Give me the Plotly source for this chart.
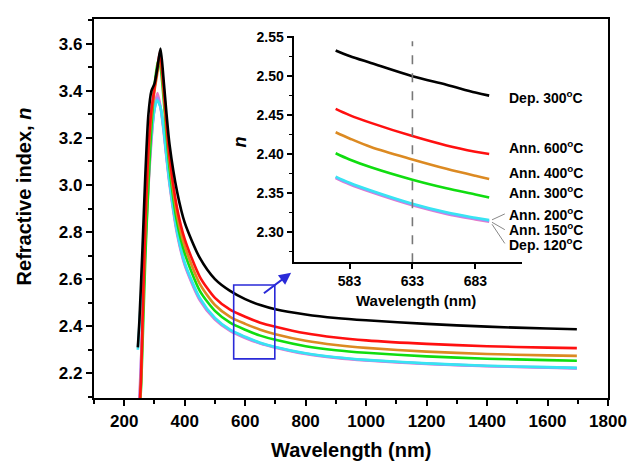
import plotly.graph_objects as go

# ---------------- data ----------------
names = ["Dep. 120", "Ann. 150", "Ann. 200", "Ann. 300", "Ann. 400", "Ann. 600", "Dep. 300"]
colors = ["#e77bc6", "#9f8fff", "#38e4f2", "#10dd10", "#dc8a22", "#ff1010", "#000000"]

wl_dep120 = [248, 252, 260, 270, 280, 290, 300, 310, 320, 330, 340, 350, 375, 400, 450, 500, 550, 600, 650, 700, 800, 900, 1000, 1200, 1400, 1600, 1697]
n_dep120 = [2.05, 2.15, 2.40, 2.74, 2.99, 3.19, 3.33, 3.39, 3.33, 3.23, 3.11, 3.00, 2.79, 2.66, 2.51, 2.428, 2.38, 2.35, 2.326, 2.309, 2.282, 2.265, 2.254, 2.240, 2.230, 2.224, 2.221]

wl_ann150 = [250, 254, 260, 270, 280, 290, 300, 310, 320, 330, 340, 350, 375, 400, 450, 500, 550, 600, 650, 700, 800, 900, 1000, 1200, 1400, 1600, 1697]
n_ann150 = [2.05, 2.18, 2.42, 2.76, 3.01, 3.20, 3.32, 3.37, 3.33, 3.24, 3.12, 3.01, 2.80, 2.665, 2.515, 2.432, 2.383, 2.353, 2.328, 2.311, 2.284, 2.267, 2.256, 2.241, 2.231, 2.225, 2.222]

wl_ann200 = [245, 250, 260, 270, 280, 290, 300, 308, 320, 330, 340, 350, 375, 400, 450, 500, 550, 600, 650, 700, 800, 900, 1000, 1200, 1400, 1600, 1697]
n_ann200 = [2.30, 2.40, 2.62, 2.87, 3.07, 3.22, 3.32, 3.36, 3.33, 3.24, 3.12, 3.01, 2.80, 2.67, 2.52, 2.435, 2.385, 2.355, 2.33, 2.312, 2.285, 2.268, 2.257, 2.242, 2.232, 2.226, 2.223]

wl_ann300 = [252, 256, 260, 270, 280, 290, 300, 312, 320, 330, 340, 350, 375, 400, 450, 500, 550, 600, 650, 700, 800, 900, 1000, 1200, 1400, 1600, 1697]
n_ann300 = [2.05, 2.15, 2.30, 2.70, 3.00, 3.25, 3.42, 3.53, 3.50, 3.37, 3.21, 3.07, 2.84, 2.71, 2.55, 2.465, 2.415, 2.385, 2.36, 2.342, 2.315, 2.298, 2.287, 2.272, 2.262, 2.256, 2.253]

wl_ann400 = [252, 256, 260, 270, 280, 290, 300, 310, 318, 330, 340, 350, 375, 400, 450, 500, 550, 600, 650, 700, 800, 900, 1000, 1200, 1400, 1600, 1697]
n_ann400 = [2.05, 2.18, 2.36, 2.82, 3.12, 3.30, 3.40, 3.48, 3.55, 3.40, 3.24, 3.10, 2.87, 2.74, 2.58, 2.49, 2.44, 2.41, 2.385, 2.366, 2.338, 2.32, 2.308, 2.292, 2.282, 2.276, 2.274]

wl_ann600 = [250, 255, 260, 270, 280, 290, 300, 310, 318, 330, 340, 350, 375, 400, 450, 500, 550, 600, 650, 700, 800, 900, 1000, 1200, 1400, 1600, 1697]
n_ann600 = [2.05, 2.16, 2.40, 2.85, 3.15, 3.32, 3.41, 3.50, 3.565, 3.42, 3.26, 3.12, 2.90, 2.77, 2.61, 2.52, 2.47, 2.44, 2.415, 2.398, 2.37, 2.352, 2.34, 2.325, 2.315, 2.309, 2.307]

wl_dep300 = [245, 250, 260, 270, 280, 290, 300, 310, 320, 330, 340, 350, 375, 400, 450, 500, 550, 600, 650, 700, 800, 900, 1000, 1200, 1400, 1600, 1697]
n_dep300 = [2.31, 2.42, 2.72, 3.05, 3.30, 3.40, 3.43, 3.50, 3.58, 3.45, 3.30, 3.17, 2.97, 2.84, 2.69, 2.60, 2.55, 2.515, 2.49, 2.472, 2.45, 2.435, 2.425, 2.41, 2.398, 2.39, 2.387]

# inset (zoom 572-694 nm)
wl_inset = [572, 583, 600, 633, 660, 683, 694]
ins_dep120 = [2.369, 2.361, 2.351, 2.334, 2.323, 2.316, 2.313]
ins_ann150 = [2.370, 2.362, 2.352, 2.335, 2.324, 2.317, 2.314]
ins_ann200 = [2.371, 2.363, 2.353, 2.336, 2.325, 2.318, 2.315]
ins_ann300 = [2.401, 2.393, 2.383, 2.367, 2.356, 2.348, 2.344]
ins_ann400 = [2.428, 2.420, 2.409, 2.393, 2.381, 2.372, 2.368]
ins_ann600 = [2.458, 2.450, 2.440, 2.423, 2.411, 2.403, 2.400]
ins_dep300 = [2.533, 2.526, 2.517, 2.500, 2.489, 2.479, 2.475]

main_x = [wl_dep120, wl_ann150, wl_ann200, wl_ann300, wl_ann400, wl_ann600, wl_dep300]
main_y = [n_dep120, n_ann150, n_ann200, n_ann300, n_ann400, n_ann600, n_dep300]
inset_y = [ins_dep120, ins_ann150, ins_ann200, ins_ann300, ins_ann400, ins_ann600, ins_dep300]

label_texts = ["Dep. 300<sup>o</sup>C", "Ann. 600<sup>o</sup>C", "Ann. 400<sup>o</sup>C", "Ann. 300<sup>o</sup>C",
               "Ann. 200<sup>o</sup>C", "Ann. 150<sup>o</sup>C", "Dep. 120<sup>o</sup>C"]

main_xticks = [200, 400, 600, 800, 1000, 1200, 1400, 1600, 1800]
main_yticks = [2.2, 2.4, 2.6, 2.8, 3.0, 3.2, 3.4, 3.6]
inset_xticks = [583, 633, 683]
inset_yticks = [2.30, 2.35, 2.40, 2.45, 2.50, 2.55]

# ---------------- figure ----------------
FONT = "Arial, 'Liberation Sans', sans-serif"
W, H = 639, 465
L, R, T, B = 94, 22, 13, 67
PW, PH = W - L - R, H - T - B


def px(xp):
    return (xp - L) / PW


def py(yp):
    return (H - B - yp) / PH


fig = go.Figure()
for i in range(len(names)):
    fig.add_trace(go.Scatter(x=main_x[i], y=main_y[i], mode="lines",
                             line=dict(color=colors[i], width=2.6, shape="spline", smoothing=0.7),
                             xaxis="x", yaxis="y", showlegend=False, name=names[i]))
for i in range(len(names)):
    fig.add_trace(go.Scatter(x=wl_inset, y=inset_y[i], mode="lines",
                             line=dict(color=colors[i], width=2.6, shape="spline"),
                             xaxis="x2", yaxis="y2", showlegend=False, name=names[i]))

axis_common = dict(showline=True, linecolor="black", linewidth=2.3, ticks="outside",
                   tickcolor="black", tickwidth=2, ticklen=6, showgrid=False, zeroline=False,
                   tickfont=dict(family=FONT, size=17, color="black", weight="bold"))

fig.update_layout(
    width=W, height=H, margin=dict(l=L, r=R, t=T, b=B),
    paper_bgcolor="white", plot_bgcolor="white",
    xaxis=dict(axis_common, range=[100, 1800], tickvals=main_xticks, mirror=True,
               minor=dict(dtick=100, tick0=100, ticks="outside", ticklen=4, tickwidth=2, tickcolor="black"),
               domain=[0, 1]),
    yaxis=dict(axis_common, range=[2.095, 3.705], tickvals=main_yticks, tickformat=".1f", mirror=True,
               minor=dict(dtick=0.1, tick0=2.1, ticks="outside", ticklen=4, tickwidth=2, tickcolor="black"),
               domain=[0, 1]),
    xaxis2=dict(axis_common, range=[538.5, 719.7], tickvals=inset_xticks, anchor="y2",
                linewidth=1.8, tickwidth=1.6, ticklen=5,
                tickfont=dict(family=FONT, size=14, color="black", weight="bold"),
                domain=[px(297), px(529)]),
    yaxis2=dict(axis_common, range=[2.261, 2.552], tickvals=inset_yticks, tickformat=".2f", anchor="x2",
                linewidth=1.8, tickwidth=1.6, ticklen=5,
                minor=dict(dtick=0.025, tick0=2.275, ticks="outside", ticklen=3, tickwidth=1.4, tickcolor="black"),
                tickfont=dict(family=FONT, size=14, color="black", weight="bold"),
                domain=[py(260), py(30)]),
)

# dashed 633 nm line in inset
fig.add_shape(type="line", xref="x2", yref="y2", x0=633, x1=633, y0=2.261, y1=2.545,
              line=dict(color="#777777", width=1.6, dash="dash"))

# blue box marking the zoomed region in main plot
fig.add_shape(type="rect", xref="x", yref="y", x0=562, x1=698, y0=2.261, y1=2.575,
              line=dict(color="#2a2ad8", width=1.6))
fig.add_annotation(xref="x", yref="y", axref="x", ayref="y", x=752, y=2.627, ax=657, ay=2.535,
                   showarrow=True, arrowhead=2, arrowsize=1.2, arrowwidth=2, arrowcolor="#2a2ad8", text="")

# curve labels
label_y = [92, 143, 168, 189, 211, 226, 242]
for t, yy in zip(label_texts, label_y):
    fig.add_annotation(xref="paper", yref="paper", x=px(514), y=py(yy), text=t, showarrow=False,
                       xanchor="left", yanchor="middle",
                       font=dict(family=FONT, size=14, color="black", weight="bold"))

# leader lines for the three overlapping curves
for y_lab, y_end in [(211, 217), (227, 219.5), (241, 221.5)]:
    fig.add_shape(type="line", xref="paper", yref="paper", x0=px(512), y0=py(y_lab),
                  x1=px(499), y1=py(y_end), line=dict(color="#888888", width=1))

# axis titles
fig.add_annotation(xref="paper", yref="paper", x=px(355), y=py(451), text="Wavelength (nm)",
                   showarrow=False, xanchor="center", yanchor="middle",
                   font=dict(family=FONT, size=20, color="black", weight="bold"))
fig.add_annotation(xref="paper", yref="paper", x=px(23), y=py(193), text="Refractive index, <i>n</i>",
                   showarrow=False, textangle=-90, xanchor="center", yanchor="middle",
                   font=dict(family=FONT, size=20, color="black", weight="bold"))
fig.add_annotation(xref="paper", yref="paper", x=px(422), y=py(299), text="Wavelength (nm)",
                   showarrow=False, xanchor="center", yanchor="middle",
                   font=dict(family=FONT, size=15, color="black", weight="bold"))
fig.add_annotation(xref="paper", yref="paper", x=px(243), y=py(138), text="<i>n</i>",
                   showarrow=False, textangle=-90, xanchor="center", yanchor="middle",
                   font=dict(family=FONT, size=18, color="black", weight="bold"))

fig.write_html("out.html")
